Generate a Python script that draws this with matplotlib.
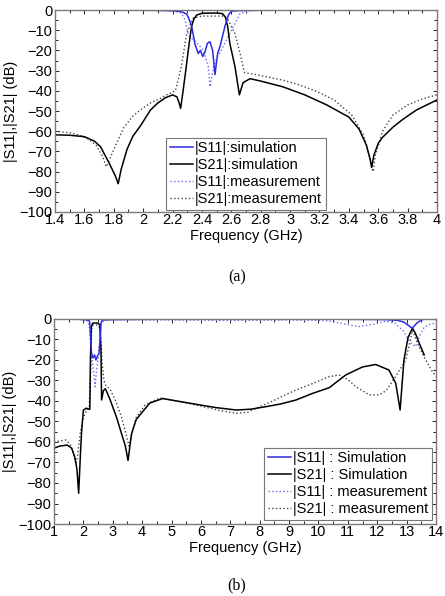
import matplotlib
matplotlib.use("Agg")
import matplotlib.pyplot as plt
from matplotlib.ticker import MultipleLocator

plt.rcParams['font.family'] = ['Liberation Sans', 'DejaVu Sans']
plt.rcParams['font.size'] = 10.5

# ---- (a) 1.4 - 4 GHz ----
a_s11_sim_f = [1.4, 1.9, 2.1, 2.2, 2.26, 2.296, 2.31, 2.33, 2.353, 2.375, 2.39, 2.405, 2.42, 2.437,
               2.455, 2.473, 2.489, 2.507, 2.523, 2.54, 2.557, 2.58, 2.6, 2.65, 2.8, 3.0, 4.0]
a_s11_sim_db = [0, -0.05, -0.2, -0.4, -0.8, -2, -4, -8, -17, -21.5, -20, -23, -21, -16.5,
                -15.7, -20, -32, -21.5, -18, -13, -8, -2.5, -0.6, -0.3, -0.1, 0, 0]

a_s21_sim_f = [1.4, 1.5, 1.6, 1.67, 1.71, 1.77, 1.81, 1.83, 1.85, 1.89, 1.93, 1.98, 2.05, 2.1, 2.15,
               2.2, 2.23, 2.245, 2.255, 2.27, 2.29, 2.307, 2.32, 2.33, 2.345, 2.364, 2.4, 2.5, 2.54,
               2.56, 2.575, 2.59, 2.625, 2.655, 2.68, 2.727, 2.79, 2.95, 3.1, 3.25, 3.4, 3.47,
               3.52, 3.545, 3.555, 3.57, 3.6, 3.63, 3.7, 3.77, 3.86, 4.0]
a_s21_sim_db = [-61.8, -62, -62.7, -65, -67.7, -76, -82, -86, -79, -69, -62.5, -57.5, -49.5, -46, -43.5,
                -42, -43, -46, -48.7, -41, -30, -20, -13, -8, -4.5, -2.5, -1.6, -1.5, -1.8,
                -3.5, -8, -16.5, -28, -42, -36, -34, -35, -38, -42, -47, -53, -59,
                -67, -74, -78, -72, -66, -63, -58, -54, -49.5, -44.5]

a_s11_meas_f = [1.4, 2.1, 2.2, 2.26, 2.285, 2.3, 2.313, 2.364, 2.41, 2.443, 2.455, 2.48, 2.5, 2.545,
                2.59, 2.625, 2.66, 2.72, 2.8, 4.0]
a_s11_meas_db = [0, -0.1, -0.3, -1.5, -5, -10, -13, -16, -20, -28, -38, -28, -24, -18,
                 -11.5, -6.7, -1.7, -0.4, -0.2, 0]

a_s21_meas_f = [1.4, 1.5, 1.57, 1.63, 1.68, 1.72, 1.75, 1.8, 1.87, 1.93, 1.98, 2.05, 2.11, 2.16, 2.22,
                2.26, 2.296, 2.34, 2.4, 2.55, 2.58, 2.625, 2.66, 2.69, 2.77, 2.95, 3.06,
                3.17, 3.3, 3.42, 3.5, 3.54, 3.565, 3.58, 3.63, 3.7, 3.8, 3.9, 4.0]
a_s21_meas_db = [-60, -60.8, -62, -64, -67, -72, -77.6, -69, -58, -52.5, -49.5, -46, -44, -42, -40,
                 -28, -11.7, -4, -3, -3, -5, -11.7, -21.5, -31, -32, -34.7, -37,
                 -40, -44.5, -52, -62, -72, -80, -72, -60, -52, -47, -44, -42]

# ---- (b) 1 - 14 GHz ----
b_s11_sim_f = [1.0, 1.8, 2.1, 2.2, 2.22, 2.25, 2.28, 2.33, 2.38, 2.43, 2.48, 2.53, 2.57, 2.6, 2.65,
               3.0, 4.8, 5.5, 10.0, 10.5, 12.3, 12.7, 12.9, 13.05, 13.19, 13.35, 13.5, 13.6]
b_s11_sim_db = [0, -0.1, -0.4, -0.8, -2, -10, -17, -19, -17.5, -20, -18, -17, -10, -2, -0.5,
                -0.3, -0.1, 0, 0, -0.1, -0.3, -0.7, -1.5, -3, -4.5, -2, -0.5, -0.1]

b_s21_sim_f = [1.0, 1.2, 1.45, 1.6, 1.7, 1.78, 1.84, 1.9, 1.94, 2.0, 2.1, 2.17, 2.22, 2.24, 2.27,
               2.32, 2.5, 2.56, 2.6, 2.62, 2.68, 2.75, 2.9, 3.13, 3.3, 3.43, 3.52, 3.64, 3.8, 4.26,
               4.7, 5.3, 6.0, 6.5, 7.2, 7.7, 8.2, 8.7, 9.24, 9.8, 10.37, 10.93, 11.5, 11.95,
               12.4, 12.63, 12.78, 12.91, 13.05, 13.2, 13.3, 13.45, 13.6]
b_s21_sim_db = [-63, -62, -61.5, -63, -67, -73, -85, -66, -55, -44.5, -43.5, -44, -44, -20, -4,
                -2, -2, -3, -15, -39.5, -35, -34, -39, -48, -56, -62, -69, -56, -49, -41,
                -38.8, -40.3, -42, -43.2, -44.4, -44, -42.8, -41.5, -39.5, -36.3, -33.5, -27.3, -23.4, -22.2,
                -24.9, -31.3, -44.4, -20, -9, -4.5, -7, -12.5, -17.5]

b_s11_meas_f = [1.0, 2.1, 2.2, 2.25, 2.3, 2.35, 2.4, 2.45, 2.5, 2.55, 2.6, 2.7, 3.0, 5.0, 7.0,
                9.0, 10.3, 10.8, 11.38, 11.9, 12.3, 12.6, 12.9, 13.1, 13.3, 13.45, 13.6, 13.8, 14.0]
b_s11_meas_db = [0, -0.3, -3, -12, -20, -26, -33, -25, -20, -12, -3, -0.5, -0.3, -0.5, -0.7,
                 -0.5, -0.8, -2.2, -3.7, -2.5, -1, -2, -6, -11, -13.5, -8, -4, -2.5, -2]

b_s21_meas_f = [1.0, 1.2, 1.4, 1.55, 1.65, 1.75, 1.8, 1.9, 2.0, 2.1, 2.2, 2.25, 2.28, 2.32, 2.5, 2.58,
                2.63, 2.7, 2.77, 2.9, 3.1, 3.3, 3.45, 3.55, 3.65, 3.8, 4.1, 4.6, 5.28, 6.0, 6.6,
                7.2, 7.6, 7.88, 8.3, 8.8, 9.24, 9.8, 10.37, 10.7, 11.0, 11.27, 11.73, 12.07, 12.3,
                12.63, 12.97, 13.1, 13.2, 13.42, 13.65, 13.85, 14.0]
b_s21_meas_db = [-60, -59.5, -59, -61, -65, -70, -67, -55, -48, -45, -43, -25, -5, -3, -3, -5,
                 -20, -30, -32.7, -34, -40, -48, -56, -62, -56, -48, -42, -38.5, -40.3, -42.5, -44.5,
                 -46, -45.5, -43.5, -41, -37.5, -34.6, -31.5, -28.1, -27.3, -29.5, -33, -37, -37, -35,
                 -28, -20, -12, -5.5, -13.5, -20, -25, -28]

a_labels = ['|S11|:simulation', '|S21|:simulation', '|S11|:measurement', '|S21|:measurement']
b_labels = ['|S11| : Simulation', '|S21| : Simulation', '|S11| : measurement', '|S21| : measurement']

blue = '#2b2be0'
lblue = '#6d6df2'
gray = '#444444'


def draw(ax, data, labels, xlim, xmajor, xminor, legloc, legpad):
    s11s, s21s, s11m, s21m = data
    ax.plot(*s11m, ':', color=lblue, lw=1.0, label=labels[2], zorder=2)
    ax.plot(*s21m, ':', color=gray, lw=1.0, label=labels[3], zorder=2)
    ax.plot(*s21s, '-', color='black', lw=1.1, label=labels[1], zorder=3)
    ax.plot(*s11s, '-', color=blue, lw=1.1, label=labels[0], zorder=4)
    ax.set_xlim(*xlim)
    ax.set_ylim(-100, 0)
    ax.xaxis.set_major_locator(MultipleLocator(xmajor))
    ax.xaxis.set_minor_locator(MultipleLocator(xminor))
    ax.yaxis.set_major_locator(MultipleLocator(10))
    ax.yaxis.set_minor_locator(MultipleLocator(5))
    ax.tick_params(which='both', direction='in', top=True, right=True, labelsize=10.5)
    ax.tick_params(which='major', length=3, width=0.6)
    ax.tick_params(which='minor', length=2, width=0.6)
    ax.tick_params(axis='x', pad=1)
    ax.tick_params(axis='y', pad=2)
    for s in ax.spines.values():
        s.set_color('#7a7a7a')
        s.set_linewidth(1.0)
        s.set_zorder(5)
    ax.set_xlabel('Frequency (GHz)', fontsize=10.5, labelpad=1)
    ax.set_ylabel('|S11|,|S21| (dB)', fontsize=10.5, labelpad=1)
    h, l = ax.get_legend_handles_labels()
    order = [3, 2, 0, 1]
    leg = ax.legend([h[i] for i in order], [l[i] for i in order], loc=legloc,
                    fontsize=10.5, fancybox=False, framealpha=1, edgecolor='#777777',
                    handlelength=1.6, handletextpad=0.1, labelspacing=0.2,
                    borderpad=0.25, borderaxespad=legpad)
    leg.get_frame().set_linewidth(0.8)
    leg.set_zorder(6)


fig = plt.figure(figsize=(4.45, 5.96), dpi=100)
ax1 = fig.add_axes([0.1236, 0.6443, 0.8584, 0.3389])
ax2 = fig.add_axes([0.1213, 0.1208, 0.8584, 0.344])

draw(ax1, [(a_s11_sim_f, a_s11_sim_db), (a_s21_sim_f, a_s21_sim_db),
           (a_s11_meas_f, a_s11_meas_db), (a_s21_meas_f, a_s21_meas_db)],
     a_labels, (1.4, 4.0), 0.2, 0.1, 'lower center', 0.15)
ax1.set_xticklabels([f'{v:g}' for v in ax1.get_xticks()])

draw(ax2, [(b_s11_sim_f, b_s11_sim_db), (b_s21_sim_f, b_s21_sim_db),
           (b_s11_meas_f, b_s11_meas_db), (b_s21_meas_f, b_s21_meas_db)],
     b_labels, (1, 14), 1, 0.5, 'lower right', 0.3)

fig.text(0.532, 1 - 277 / 596, '(a)', ha='center', va='center',
         family='Liberation Serif', fontsize=11.5)
fig.text(0.532, 1 - 585 / 596, '(b)', ha='center', va='center',
         family='Liberation Serif', fontsize=11.5)

fig.savefig('out.png', dpi=100)
